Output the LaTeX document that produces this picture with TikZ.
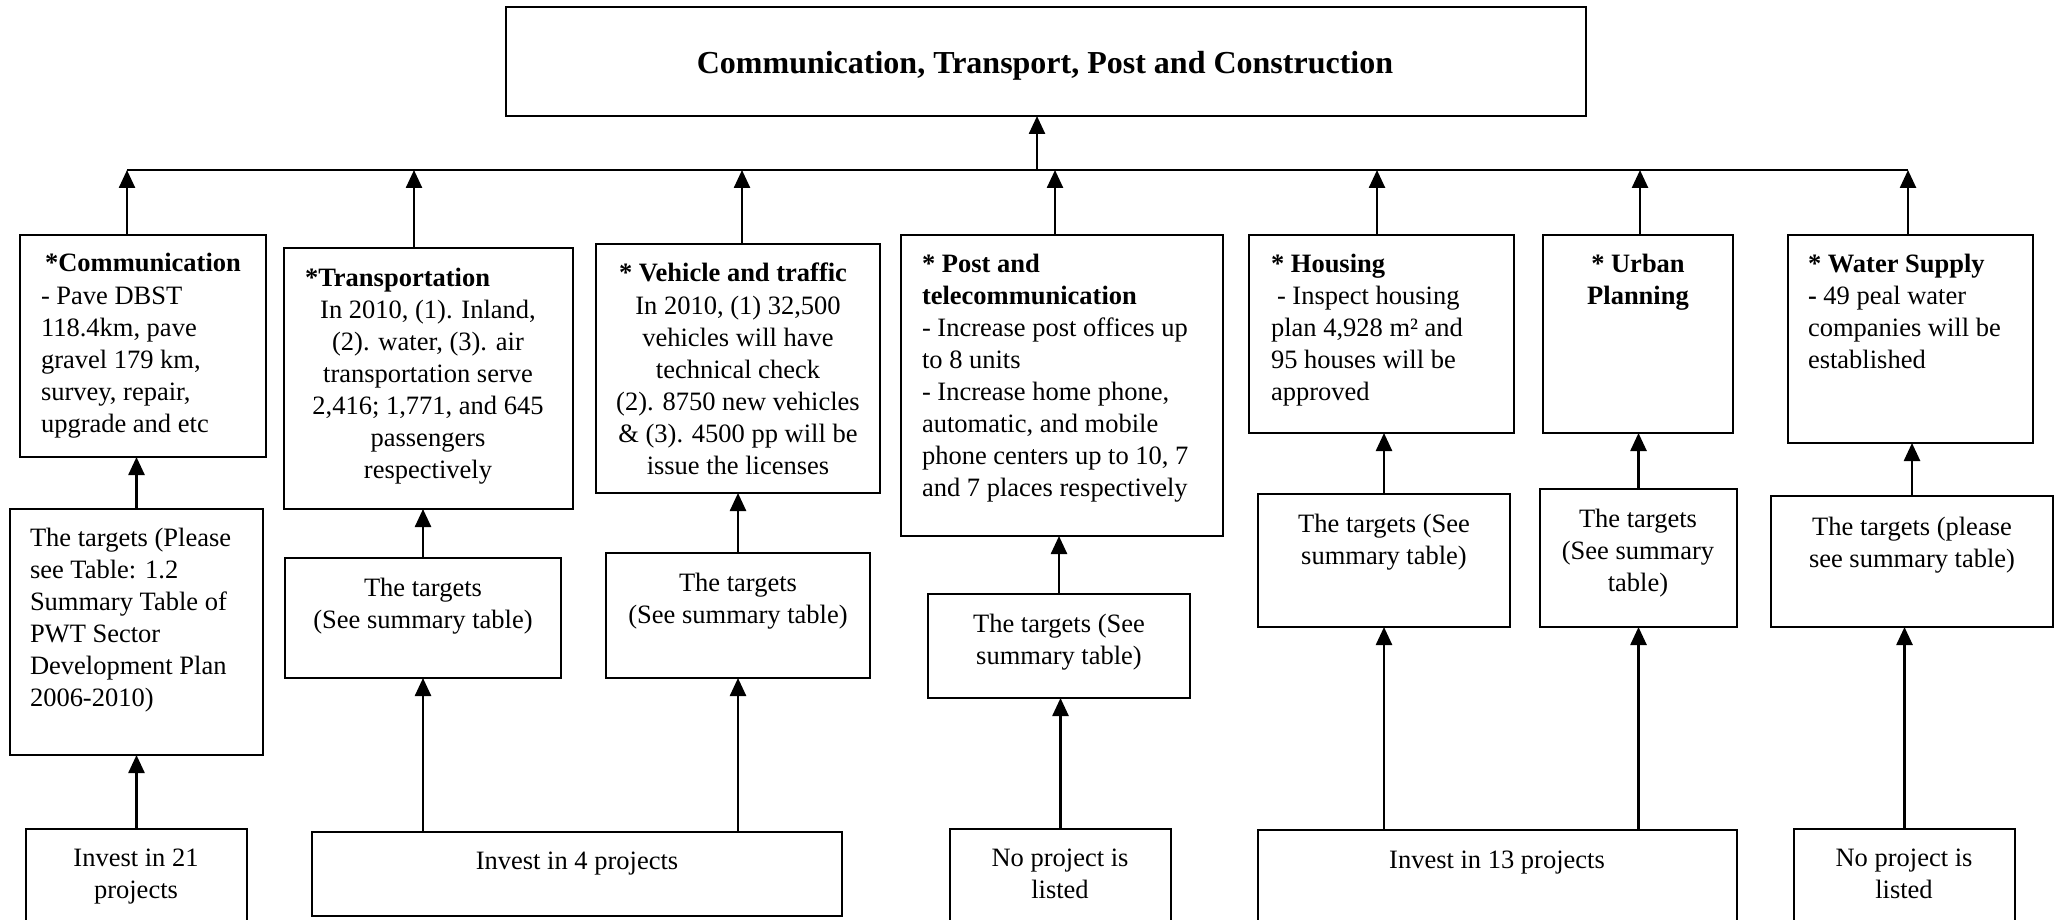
\documentclass[tikz,border=0pt]{standalone}
\usepackage{fontspec}
\setmainfont{Liberation Serif}
\usetikzlibrary{arrows.meta}
\newcommand\bodyfont{\fontsize{26.5pt}{32pt}\selectfont}
\newcommand\titlefont{\fontsize{32pt}{38pt}\selectfont\bfseries}
\newcommand\fs{\rule{0pt}{21pt}}
\newcommand\bx[5]{\node[box, anchor=north west, minimum width={(#4-#2)*1pt}, minimum height={(#5-#3)*1pt}] (#1) at (#2,#3) {};}
\begin{document}
\begin{tikzpicture}[x=1pt,y=-1pt,
  box/.style={draw, line width=2.2pt, inner sep=0pt, outer sep=0pt},
  txt/.style={inner sep=0pt, outer sep=0pt, font=\bodyfont},
  arr/.style={line width=2.5pt, -{Triangle[length=18pt,width=16pt]}},
  bus/.style={line width=2.5pt}]
\clip (0,0) rectangle (2059,920);
% boxes
\bx{top}{506}{7}{1586}{116}
\bx{comm}{20}{235}{266}{457}
\bx{trans}{284}{248}{573}{509}
\bx{veh}{596}{244}{880}{493}
\bx{post}{901}{235}{1223}{536}
\bx{hous}{1249}{235}{1514}{433}
\bx{urb}{1543}{235}{1733}{433}
\bx{wat}{1788}{235}{2033}{443}
\bx{ct}{10}{509}{263}{755}
\bx{tt}{285}{558}{561}{678}
\bx{vt}{606}{553}{870}{678}
\bx{pt}{928}{594}{1190}{698}
\bx{ht}{1258}{494}{1510}{627}
\bx{ut}{1540}{489}{1737}{627}
\bx{wt}{1771}{496}{2053}{627}
\bx{inva}{26}{829}{247}{930}
\bx{invb}{312}{832}{842}{916}
\bx{npa}{950}{829}{1171}{930}
\bx{invc}{1258}{830}{1737}{930}
\bx{npb}{1794}{829}{2015}{930}
% texts
\node[txt, font=\titlefont, anchor=base] (ttl) at (1045,74) {Communication, Transport, Post and Construction};
\node[txt, anchor=base] (commh) at (143,272) {\textbf{*Communication}};
\node[txt, anchor=north west, align=left] (commb) at (41,283) {\fs- Pave DBST\\118.4km, pave\\gravel 179 km,\\survey, repair,\\upgrade and etc};
\node[txt, anchor=base west] (transh) at (305,286) {\textbf{*Transportation}};
\node[txt, anchor=north, align=center] (transb) at (428,297) {\fs In 2010, (1). Inland,\\(2). water, (3). air\\transportation serve\\2,416; 1,771, and 645\\passengers\\respectively};
\node[txt, anchor=base] (vehh) at (733,281) {\textbf{* Vehicle and traffic}};
\node[txt, anchor=north, align=center] (vehb) at (738,293) {\fs In 2010, (1) 32,500\\vehicles will have\\technical check\\(2). 8750 new vehicles\\\& (3). 4500 pp will be\\issue the licenses};
\node[txt, anchor=north west, align=left] (postb) at (922,251) {\fs\textbf{* Post and}\\\textbf{telecommunication}\\- Increase post offices up\\to 8 units\\- Increase home phone,\\automatic, and mobile\\phone centers up to 10, 7\\and 7 places respectively};
\node[txt, anchor=north west, align=left] (housb) at (1271,251) {\fs\textbf{* Housing}\\\hspace*{6pt}- Inspect housing\\plan 4,928 m² and\\95 houses will be\\approved};
\node[txt, anchor=north, align=center] (urbb) at (1638,251) {\fs\textbf{* Urban}\\\textbf{Planning}};
\node[txt, anchor=north west, align=left] (watb) at (1808,251) {\fs\textbf{* Water Supply}\\\textbf{-} 49 peal water\\companies will be\\established};
\node[txt, anchor=north west, align=left] (ctt) at (30,525) {\fs The targets (Please\\see Table: 1.2\\Summary Table of\\PWT Sector\\Development Plan\\2006-2010)};
\node[txt, anchor=north, align=center] (ttt) at (423,575) {\fs The targets\\(See summary table)};
\node[txt, anchor=north, align=center] (vtt) at (738,570) {\fs The targets\\(See summary table)};
\node[txt, anchor=north, align=center] (ptt) at (1059,611) {\fs The targets (See\\summary table)};
\node[txt, anchor=north, align=center] (htt) at (1384,511) {\fs The targets (See\\summary table)};
\node[txt, anchor=north, align=center] (utt) at (1638,506) {\fs The targets\\(See summary\\table)};
\node[txt, anchor=north, align=center] (wtt) at (1912,514) {\fs The targets (please\\see summary table)};
\node[txt, anchor=north, align=center] (invat) at (136,845) {\fs Invest in 21\\projects};
\node[txt, anchor=base] (invbt) at (577,869) {Invest in 4 projects};
\node[txt, anchor=north, align=center] (npat) at (1060,845) {\fs No project is\\listed};
\node[txt, anchor=base] (invct) at (1497,868) {Invest in 13 projects};
\node[txt, anchor=north, align=center] (npbt) at (1904,845) {\fs No project is\\listed};
% bus
\coordinate (b1) at (127,170);
\coordinate (b2) at (414,170);
\coordinate (b3) at (742,170);
\coordinate (b4) at (1055,170);
\coordinate (b5) at (1377,170);
\coordinate (b6) at (1640,170);
\coordinate (b7) at (1908,170);
\coordinate (bt) at (1037,170);
\draw[bus] (b1) -- (b7);
\draw[arr] (bt) -- (bt |- top.south);
\draw[arr] (comm.north -| b1) -- (b1);
\draw[arr] (trans.north -| b2) -- (b2);
\draw[arr] (veh.north -| b3) -- (b3);
\draw[arr] (post.north -| b4) -- (b4);
\draw[arr] (hous.north -| b5) -- (b5);
\draw[arr] (urb.north -| b6) -- (b6);
\draw[arr] (wat.north -| b7) -- (b7);
% vertical connectors
\draw[arr] (ct.north) -- (ct.north |- comm.south);
\draw[arr] (inva.north) -- (inva.north |- ct.south);
\draw[arr] (tt.north) -- (tt.north |- trans.south);
\draw[arr] (invb.north -| tt.south) -- (tt.south);
\draw[arr] (vt.north) -- (vt.north |- veh.south);
\draw[arr] (invb.north -| vt.south) -- (vt.south);
\draw[arr] (pt.north) -- (pt.north |- post.south);
\draw[arr] (npa.north) -- (npa.north |- pt.south);
\draw[arr] (ht.north) -- (ht.north |- hous.south);
\draw[arr] (invc.north -| ht.south) -- (ht.south);
\draw[arr] (ut.north) -- (ut.north |- urb.south);
\draw[arr] (invc.north -| ut.south) -- (ut.south);
\draw[arr] (wt.north) -- (wt.north |- wat.south);
\draw[arr] (npb.north) -- (npb.north |- wt.south);
\end{tikzpicture}
\end{document}
